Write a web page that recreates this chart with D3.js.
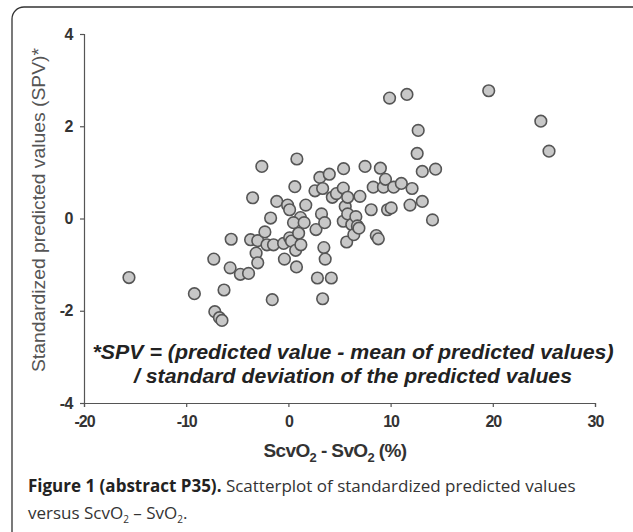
<!DOCTYPE html>
<html>
<head>
<meta charset="utf-8">
<script src="https://cdn.jsdelivr.net/npm/d3@7"></script>
<style>
  body { margin: 0; background: #fff; }
  .tick text { font-family: "Liberation Sans", Arial, sans-serif; font-weight: bold; font-size: 16px; fill: #333; }
  .domain, .tick line { stroke: #555; stroke-width: 1.2; }
</style>
</head>
<body>
<div id="chart"></div>
<script>
"use strict"

// values (x = ScvO2 - SvO2 %, y = SPV)
let xValues = [-15.6, -9.2, -7.2, -6.75, -6.5, -6.3, -7.3, -5.6, -5.7, -4.7, -3.9, -3.5, -3.7, -3.0, -3.16, -3.0,
	-2.6, -2.3, -2.1, -1.74, -1.46, -1.14, -1.58, -0.47, -0.39, -0.08, 0.12, 0.12, 0.3, 0.63, 0.83, 0.71, 0.79,
	1.0, 1.22, 1.18, 0.5, 1.54, 1.7, 2.6, 2.7, 2.84, 3.08, 3.24, 3.35, 3.47, 3.55, 3.35, 3.6, 4.0, 4.2, 4.3, 4.7,
	5.4, 5.37, 5.37, 5.56, 5.7, 5.8, 5.8, 6.2, 6.4, 6.6, 6.75, 6.9, 7.0, 7.5, 8.1, 8.3, 8.6, 8.8, 9.0, 9.3, 9.5,
	9.7, 10.06, 10.3, 9.9, 11.6, 11.05, 11.9, 12.1, 12.7, 12.6, 13.1, 13.1, 14.1, 14.4, 19.6, 24.7, 25.5];
let yValues = [-1.28, -1.63, -2.02, -2.15, -2.21, -1.55, -0.88, -0.45, -1.07, -1.21, -1.19, 0.45, -0.46, -0.48, -0.75, -0.96,
	1.13, -0.29, -0.57, 0.01, -0.57, 0.37, -1.76, -0.54, -0.88, 0.29, 0.19, -0.42, -0.49, 0.69, 1.29, -0.69, -1.05,
	-0.32, -0.57, 0.02, -0.09, -0.09, 0.29, 0.6, -0.24, -1.29, 0.89, 0.1, 0.65, -0.63, -0.09, -1.74, -0.88, 0.96, -1.29, 0.46, 0.54,
	1.08, 0.66, -0.06, 0.26, -0.51, 0.46, 0.1, -0.13, -0.35, 0.04, -0.16, -0.21, 0.48, 1.13, 0.19, 0.68, -0.37, -0.44, 1.09, 0.68, 0.85,
	0.19, 0.23, 0.68, 2.61, 2.69, 0.76, 0.29, 0.65, 1.91, 1.41, 1.02, 0.37, -0.03, 1.07, 2.77, 2.11, 1.46];
let xTicks = [-20, -10, 0, 10, 20, 30];
let yTicks = [-4, -2, 0, 2, 4];

let points = xValues.map((x, i) => ({x: x, y: yValues[i]}));

let W = 633, H = 532;
let margin = {left: 84, right: 38, top: 34, bottom: 129};

let svg = d3.select("#chart").append("svg")
	.attr("width", W)
	.attr("height", H);

// figure frame (rounded top-left corner, runs off the right/bottom)
svg.append("rect")
	.attr("x", 12).attr("y", 7)
	.attr("width", 700).attr("height", 600)
	.attr("rx", 12)
	.attr("fill", "none")
	.attr("stroke", "#333")
	.attr("stroke-width", 1.3);

let xScale = d3.scaleLinear().domain([-20, 30]).range([margin.left, W - margin.right]);
let yScale = d3.scaleLinear().domain([-4, 4]).range([H - margin.bottom, margin.top]);

svg.append("g")
	.attr("transform", `translate(0,${yScale(-4)})`)
	.call(d3.axisBottom(xScale).tickValues(xTicks).tickFormat(d => String(d))
		.tickSize(4).tickSizeOuter(4).tickPadding(9))
	.selectAll("text").attr("letter-spacing", "-1");

svg.append("g")
	.attr("transform", `translate(${xScale(-20)},0)`)
	.call(d3.axisLeft(yScale).tickValues(yTicks).tickFormat(d => String(d))
		.tickSize(4).tickSizeOuter(4).tickPadding(7))
	.selectAll("text").attr("letter-spacing", "-0.5");

svg.append("g").selectAll("circle")
	.data(points)
	.enter().append("circle")
		.attr("cx", d => xScale(d.x))
		.attr("cy", d => yScale(d.y))
		.attr("r", 5.8)
		.attr("fill", "#c8c8c8")
		.attr("stroke", "#555")
		.attr("stroke-width", 1.6);

// y axis title
svg.append("text")
	.attr("transform", `translate(45,210)rotate(-90)`)
	.attr("text-anchor", "middle")
	.attr("font-family", "Liberation Sans, Arial, sans-serif")
	.attr("font-size", 18)
	.attr("fill", "#555")
	.attr("textLength", 324)
	.attr("lengthAdjust", "spacingAndGlyphs")
	.text("Standardized predicted values (SPV)*");

// x axis title with subscripts
let xt = svg.append("text")
	.attr("x", 335).attr("y", 457)
	.attr("text-anchor", "middle")
	.attr("font-family", "Liberation Sans, Arial, sans-serif")
	.attr("font-weight", "bold")
	.attr("font-size", 19)
	.attr("letter-spacing", "-0.6")
	.attr("fill", "#333");
xt.append("tspan").text("ScvO");
xt.append("tspan").attr("font-size", 13).attr("dy", 5).text("2");
xt.append("tspan").attr("dy", -5).text(" - SvO");
xt.append("tspan").attr("font-size", 13).attr("dy", 5).text("2");
xt.append("tspan").attr("dy", -5).text(" (%)");

// SPV definition note
let noteLines = ["*SPV = (predicted value - mean of predicted values)", "/ standard deviation of the predicted values"];
let noteWidths = [521, 438];
svg.append("g").selectAll("text")
	.data(noteLines)
	.enter().append("text")
		.attr("x", 353)
		.attr("y", (d, i) => 359 + i * 24)
		.attr("text-anchor", "middle")
		.attr("font-family", "Liberation Sans, Arial, sans-serif")
		.attr("font-weight", "bold")
		.attr("font-style", "italic")
		.attr("font-size", 21)
		.attr("fill", "#222")
		.attr("textLength", (d, i) => noteWidths[i])
		.attr("lengthAdjust", "spacingAndGlyphs")
		.text(d => d);

// caption
let cap1 = svg.append("text")
	.attr("x", 28).attr("y", 492)
	.attr("font-family", "Open Sans, Noto Sans, sans-serif")
	.attr("font-size", 17)
	.attr("fill", "#222");
cap1.append("tspan").attr("font-weight", "bold").text("Figure 1 (abstract P35).");
cap1.append("tspan").attr("fill", "#333").text(" Scatterplot of standardized predicted values");

let cap2 = svg.append("text")
	.attr("x", 28).attr("y", 519)
	.attr("font-family", "Open Sans, Noto Sans, sans-serif")
	.attr("font-size", 17)
	.attr("fill", "#333");
cap2.append("tspan").text("versus ScvO");
cap2.append("tspan").attr("font-size", 10).attr("dy", 4).text("2");
cap2.append("tspan").attr("dy", -4).text(" – SvO");
cap2.append("tspan").attr("font-size", 10).attr("dy", 4).text("2");
cap2.append("tspan").attr("dy", -4).text(".");
</script>
</body>
</html>
